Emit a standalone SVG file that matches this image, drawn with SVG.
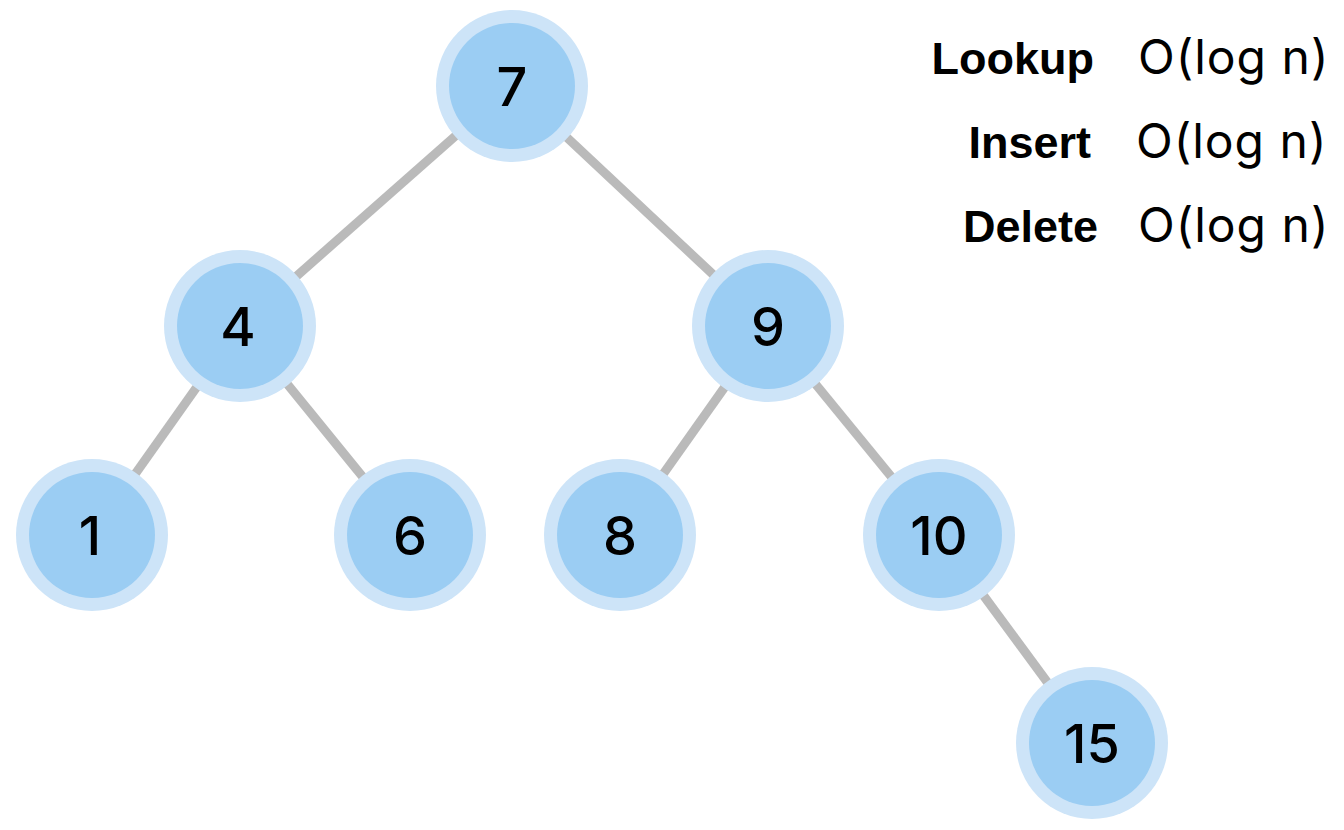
<svg xmlns="http://www.w3.org/2000/svg" width="1344" height="830" viewBox="0 0 1344 830">
<style>
.edge{stroke:#bababa;stroke-width:9;fill:none}
.outer{fill:#cde4f8}
.inner{fill:#9bcdf3}
.num{font-family:"Inter","Noto Sans",sans-serif;font-size:54px;font-weight:500;fill:#000;text-anchor:middle}
.op{font-family:"Liberation Sans","Noto Sans",sans-serif;font-size:45px;font-weight:bold;fill:#000;text-anchor:end}
.cx{font-family:"Inter","Noto Sans",sans-serif;font-size:48px;font-weight:400;letter-spacing:1px;fill:#000;text-anchor:start}
</style>
<rect width="1344" height="830" fill="#fff"/>
<g id="connectors">
<line class="edge" x1="512" y1="86" x2="240" y2="326"/>
<line class="edge" x1="512" y1="86" x2="768" y2="326"/>
<line class="edge" x1="240" y1="326" x2="92" y2="535"/>
<line class="edge" x1="240" y1="326" x2="410" y2="535"/>
<line class="edge" x1="768" y1="326" x2="620" y2="535"/>
<line class="edge" x1="768" y1="326" x2="939" y2="535"/>
<line class="edge" x1="939" y1="535" x2="1092" y2="743"/>
</g>
<g id="n7"><circle class="outer" cx="512" cy="86" r="76"/><circle class="inner" cx="512" cy="86" r="63"/><text class="num" x="512" y="106">7</text></g>
<g id="n4"><circle class="outer" cx="240" cy="326" r="76"/><circle class="inner" cx="240" cy="326" r="63"/><text class="num" x="238" y="346">4</text></g>
<g id="n9"><circle class="outer" cx="768" cy="326" r="76"/><circle class="inner" cx="768" cy="326" r="63"/><text class="num" x="768" y="346">9</text></g>
<g id="n1"><circle class="outer" cx="92" cy="535" r="76"/><circle class="inner" cx="92" cy="535" r="63"/><text class="num" x="90" y="555">1</text></g>
<g id="n6"><circle class="outer" cx="410" cy="535" r="76"/><circle class="inner" cx="410" cy="535" r="63"/><text class="num" x="410" y="555">6</text></g>
<g id="n8"><circle class="outer" cx="620" cy="535" r="76"/><circle class="inner" cx="620" cy="535" r="63"/><text class="num" x="620" y="555">8</text></g>
<g id="n10"><circle class="outer" cx="939" cy="535" r="76"/><circle class="inner" cx="939" cy="535" r="63"/><text class="num" x="939" y="555">10</text></g>
<g id="n15"><circle class="outer" cx="1092" cy="743" r="76"/><circle class="inner" cx="1092" cy="743" r="63"/><text class="num" x="1092" y="763">15</text></g>
<g id="legend">
<text class="op" x="1094" y="74">Lookup</text>
<text class="cx" x="1138" y="74">O(log n)</text>
<text class="op" x="1091" y="158">Insert</text>
<text class="cx" x="1136" y="158">O(log n)</text>
<text class="op" x="1098" y="242">Delete</text>
<text class="cx" x="1138" y="242">O(log n)</text>
</g>
</svg>
